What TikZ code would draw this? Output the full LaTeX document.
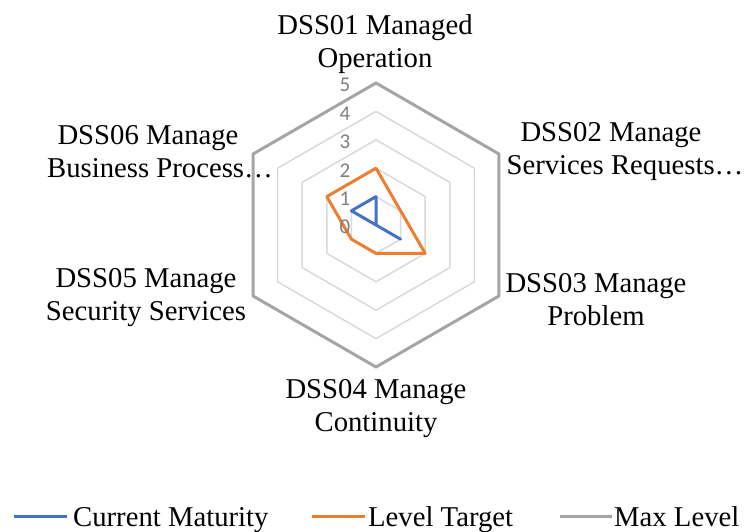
\documentclass[tikz,border=0pt]{standalone}
\usepackage{fontspec}
\setmainfont{Liberation Serif}
\newfontfamily\lblfont{Liberation Serif}
\newfontfamily\tickfont{Carlito}
\usetikzlibrary{positioning}
\definecolor{curblue}{HTML}{4472C4}
\definecolor{tgtorange}{HTML}{ED7D31}
\definecolor{maxgray}{HTML}{A5A5A5}
\definecolor{gridgray}{HTML}{D9D9D9}
\definecolor{ticktext}{HTML}{7F7F7F}
\newcommand{\lvl}{28.4}

\begin{document}
\begin{tikzpicture}[x=1pt, y=1pt, line join=round]
    \tikzstyle{lbl}=[align=center, font=\lblfont\fontsize{28.7}{33}\selectfont, inner sep=0pt]
    \tikzstyle{tick}=[font=\tickfont\fontsize{21}{21}\selectfont, text=ticktext, inner sep=0pt]
    \tikzstyle{ring}=[draw=gridgray, line width=1.5pt]
    \tikzstyle{series}=[line width=3pt]
    \useasboundingbox (0,0) rectangle (748,531);
    \begin{scope}[shift={(376,306)}]
      % grid rings
      \foreach \r in {1,...,4}
        \draw[ring] (90:{\r*\lvl}) -- (30:{\r*\lvl}) -- (-30:{\r*\lvl}) -- (-90:{\r*\lvl}) -- (-150:{\r*\lvl}) -- (150:{\r*\lvl}) -- cycle;
      % max level
      \draw[series, maxgray] (90:{5*\lvl}) -- (30:{5*\lvl}) -- (-30:{5*\lvl}) -- (-90:{5*\lvl}) -- (-150:{5*\lvl}) -- (150:{5*\lvl}) -- cycle;
      % level target
      \draw[series, tgtorange] (90:{2*\lvl}) -- (30:\lvl) -- (-30:{2*\lvl}) -- (-90:\lvl) -- (-150:\lvl) -- (150:{2*\lvl}) -- cycle;
      % current maturity
      \draw[series, curblue] (90:\lvl) -- (0,0) -- (-30:\lvl) -- (0,0) -- (150:\lvl) -- cycle;
      % axis values
      \foreach \v in {0,...,5}
        \node[tick] (tick\v) at (-31, {\v*\lvl-2}) {\v};
    \end{scope}
    % categories
    \node[lbl] (dss01) at (375,487) {DSS01 Managed\\Operation};
    \node[lbl] (dss02) at (611,379) {DSS02 Manage\\\hspace*{28pt}Services Requests\ldots};
    \node[lbl] (dss03) at (596,231) {DSS03 Manage\\Problem};
    \node[lbl] (dss04) at (376,122) {DSS04 Manage\\Continuity};
    \node[lbl] (dss05) at (146,233) {DSS05 Manage\\Security Services};
    \node[lbl] (dss06) at (148,379) {DSS06 Manage\\\hspace*{24pt}Business Process\ldots};
    % legend
    \node[lbl, anchor=base west] (curtxt) at (73,5) {Current Maturity};
    \node[lbl, anchor=base west] (tgttxt) at (368,5) {Level Target};
    \node[lbl, anchor=base west] (maxtxt) at (614,5) {Max Level};
    \coordinate (curkey) at (14,15);
    \coordinate (tgtkey) at (312,15);
    \coordinate (maxkey) at (560,15);
    \draw[series, curblue] (curkey) -- ++(53,0);
    \draw[series, tgtorange] (tgtkey) -- ++(53,0);
    \draw[series, maxgray] (maxkey) -- ++(52,0);
\end{tikzpicture}
\end{document}
